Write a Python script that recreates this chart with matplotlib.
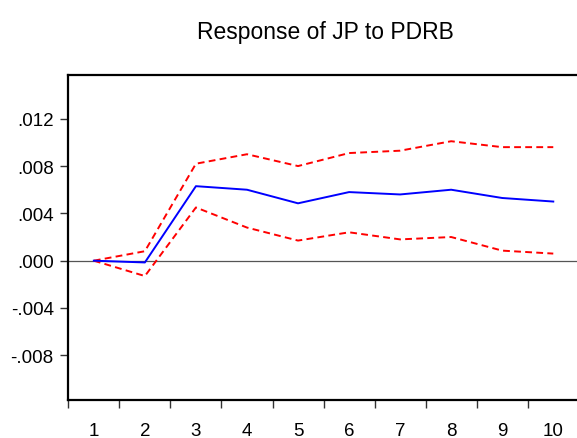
import matplotlib
matplotlib.use('Agg')
import matplotlib.pyplot as plt

plt.rcParams['font.family'] = ['Liberation Sans', 'DejaVu Sans']

periods = [1, 2, 3, 4, 5, 6, 7, 8, 9, 10]
response = [0.0, -0.00015, 0.0063, 0.0060, 0.00485, 0.0058, 0.0056, 0.0060, 0.0053, 0.0050]
upper = [0.0, 0.0008, 0.0082, 0.0090, 0.0080, 0.0091, 0.0093, 0.0101, 0.0096, 0.0096]
lower = [0.0, -0.0013, 0.0045, 0.0028, 0.0017, 0.0024, 0.0018, 0.0020, 0.00085, 0.0006]
ytick_vals = [-0.008, -0.004, 0.0, 0.004, 0.008, 0.012]
ytick_labels = ['-.008', '-.004', '.000', '.004', '.008', '.012']

fig = plt.figure(figsize=(5.77, 4.39), dpi=100)
ax = fig.add_axes([68.3 / 577, (439 - 401) / 439, 510.5 / 577, 325 / 439])

ax.axhline(0, color='#555555', lw=0.9, zorder=1)
ax.plot(periods, upper, color='red', lw=1.4, ls=(0, (3.5, 2.2)), zorder=2)
ax.plot(periods, lower, color='red', lw=1.4, ls=(0, (3.5, 2.2)), zorder=2)
ax.plot(periods, response, color='blue', lw=1.4, zorder=3)

ax.set_xlim(0.5, 10.5)
ax.set_ylim(-0.01178, 0.0157)

ax.set_xticks([i + 0.5 for i in range(10)])
ax.set_xticklabels([])
ax.set_xticks(periods, minor=True)
ax.set_xticklabels([str(p) for p in periods], minor=True, fontsize=13.5)
ax.tick_params(axis='x', which='minor', length=0, pad=16)
ax.tick_params(axis='x', which='major', direction='out', length=6, width=1, color='#333333')

ax.set_yticks(ytick_vals)
ax.set_yticklabels(ytick_labels, fontsize=13.5)
ax.tick_params(axis='y', direction='out', length=5.5, width=1, color='#333333', pad=5)

for side in ['left', 'top', 'bottom']:
    ax.spines[side].set_linewidth(1.6)
    ax.spines[side].set_color('black')
ax.spines['right'].set_visible(False)

fig.text(325 / 577, 1 - 32 / 439, 'Response of JP to PDRB', ha='center', va='center', fontsize=16.5)

fig.savefig('out.png', dpi=100)
